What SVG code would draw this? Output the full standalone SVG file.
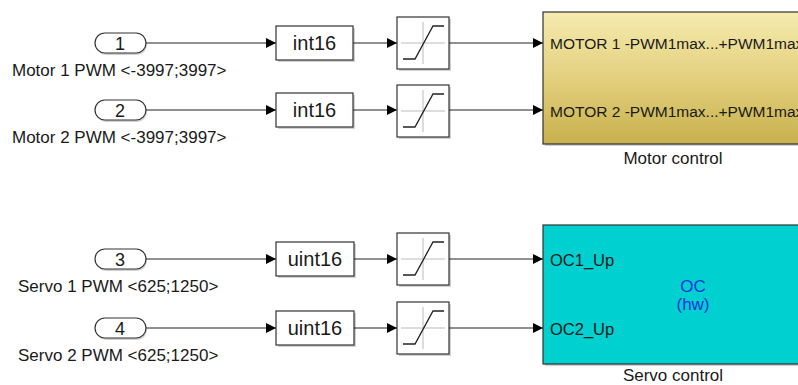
<svg xmlns="http://www.w3.org/2000/svg" width="798" height="385" viewBox="0 0 798 385">
<style>
.t{font-family:"Liberation Sans",Arial,sans-serif;fill:#1a1a1a}
.lbl{font-size:17px}
.num{font-size:18px;text-anchor:middle}
.cv{font-size:20px;text-anchor:middle}
.port{font-size:16.5px}
.mport{font-size:15.5px}
.blk{stroke:#333;stroke-width:1.2;fill:#fff}
.sh{fill:#000;opacity:0.18}
.wire{stroke:#222;stroke-width:1;fill:none}
.grid{stroke:#bbb;stroke-width:1}
.curve{stroke:#222;stroke-width:1.3;fill:none}
</style>
<defs>
<marker id="ah" markerWidth="10" markerHeight="10" refX="10" refY="5" orient="auto" markerUnits="userSpaceOnUse">
<path d="M0,0 L10,5 L0,10 Z" fill="#000"/>
</marker>
<linearGradient id="mg" x1="0" y1="0" x2="0" y2="1">
<stop offset="0" stop-color="#F6EBAF"/>
<stop offset="0.5" stop-color="#E3D07E"/>
<stop offset="1" stop-color="#C7B04C"/>
</linearGradient>
<g id="satIcon">
<rect class="sh" x="2" y="2" width="52" height="52"/>
<rect class="blk" x="0" y="0" width="52" height="52"/>
<line class="grid" x1="26" y1="5" x2="26" y2="47"/>
<line class="grid" x1="4" y1="26" x2="48" y2="26"/>
<polyline class="curve" points="6,42 18,42 36,9 47,9"/>
</g>
</defs>
<rect width="798" height="385" fill="#fff"/>

<g id="connectors">
<line class="wire" x1="146" y1="43" x2="276" y2="43" marker-end="url(#ah)"/>
<line class="wire" x1="353" y1="43" x2="397" y2="43" marker-end="url(#ah)"/>
<line class="wire" x1="449" y1="43" x2="543" y2="43" marker-end="url(#ah)"/>
<line class="wire" x1="146" y1="110" x2="276" y2="110" marker-end="url(#ah)"/>
<line class="wire" x1="353" y1="110" x2="397" y2="110" marker-end="url(#ah)"/>
<line class="wire" x1="449" y1="110" x2="543" y2="110" marker-end="url(#ah)"/>
<line class="wire" x1="146" y1="259" x2="276" y2="259" marker-end="url(#ah)"/>
<line class="wire" x1="354" y1="259" x2="397" y2="259" marker-end="url(#ah)"/>
<line class="wire" x1="449" y1="259" x2="543" y2="259" marker-end="url(#ah)"/>
<line class="wire" x1="146" y1="328" x2="276" y2="328" marker-end="url(#ah)"/>
<line class="wire" x1="354" y1="328" x2="397" y2="328" marker-end="url(#ah)"/>
<line class="wire" x1="449" y1="328" x2="543" y2="328" marker-end="url(#ah)"/>
</g>

<g id="in1">
<rect class="sh" x="96" y="35" width="51" height="20" rx="10"/>
<rect class="blk" x="95" y="33" width="51" height="20" rx="10"/>
<text class="t num" x="120" y="49.5">1</text>
<text class="t lbl" x="12" y="76">Motor 1 PWM &lt;-3997;3997&gt;</text>
</g>
<g id="in2">
<rect class="sh" x="96" y="102" width="51" height="20" rx="10"/>
<rect class="blk" x="95" y="100" width="51" height="20" rx="10"/>
<text class="t num" x="120" y="116.5">2</text>
<text class="t lbl" x="12" y="143">Motor 2 PWM &lt;-3997;3997&gt;</text>
</g>
<g id="in3">
<rect class="sh" x="96" y="251" width="51" height="20" rx="10"/>
<rect class="blk" x="95" y="249" width="51" height="20" rx="10"/>
<text class="t num" x="120" y="265.5">3</text>
<text class="t lbl" x="18" y="292">Servo 1 PWM &lt;625;1250&gt;</text>
</g>
<g id="in4">
<rect class="sh" x="96" y="320" width="51" height="20" rx="10"/>
<rect class="blk" x="95" y="318" width="51" height="20" rx="10"/>
<text class="t num" x="120" y="334.5">4</text>
<text class="t lbl" x="18" y="361">Servo 2 PWM &lt;625;1250&gt;</text>
</g>

<g id="conv1">
<rect class="sh" x="278" y="28" width="77" height="34"/>
<rect class="blk" x="276" y="26" width="77" height="34"/>
<text class="t cv" x="314.5" y="50">int16</text>
</g>
<g id="conv2">
<rect class="sh" x="278" y="95" width="77" height="34"/>
<rect class="blk" x="276" y="93" width="77" height="34"/>
<text class="t cv" x="314.5" y="117">int16</text>
</g>
<g id="conv3">
<rect class="sh" x="278" y="244" width="78" height="34"/>
<rect class="blk" x="276" y="242" width="78" height="34"/>
<text class="t cv" x="315" y="266">uint16</text>
</g>
<g id="conv4">
<rect class="sh" x="278" y="313" width="78" height="34"/>
<rect class="blk" x="276" y="311" width="78" height="34"/>
<text class="t cv" x="315" y="335">uint16</text>
</g>

<g id="sat1"><use href="#satIcon" x="397" y="17"/></g>
<g id="sat2"><use href="#satIcon" x="397" y="85"/></g>
<g id="sat3"><use href="#satIcon" x="397" y="233"/></g>
<g id="sat4"><use href="#satIcon" x="397" y="302"/></g>

<g id="motor">
<rect class="sh" x="545" y="14" width="270" height="132"/>
<rect x="543" y="12" width="270" height="132" fill="url(#mg)" stroke="#333" stroke-width="1.2"/>
<text class="t mport" x="550" y="49">MOTOR 1 -PWM1max...+PWM1max</text>
<text class="t mport" x="550" y="117">MOTOR 2 -PWM1max...+PWM1max</text>
<text class="t lbl" x="673" y="164" text-anchor="middle">Motor control</text>
</g>

<g id="servo">
<rect class="sh" x="545" y="227" width="270" height="139"/>
<rect x="543" y="225" width="270" height="139" fill="#00D0D0" stroke="#333" stroke-width="1.2"/>
<text class="t port" x="550" y="266">OC1_Up</text>
<text class="t port" x="550" y="335">OC2_Up</text>
<text class="t" x="693" y="292" font-size="17" text-anchor="middle" style="fill:#1533d6">OC</text>
<text class="t" x="693" y="310" font-size="17" text-anchor="middle" style="fill:#1533d6">(hw)</text>
<text class="t lbl" x="673" y="381" text-anchor="middle">Servo control</text>
</g>
</svg>
